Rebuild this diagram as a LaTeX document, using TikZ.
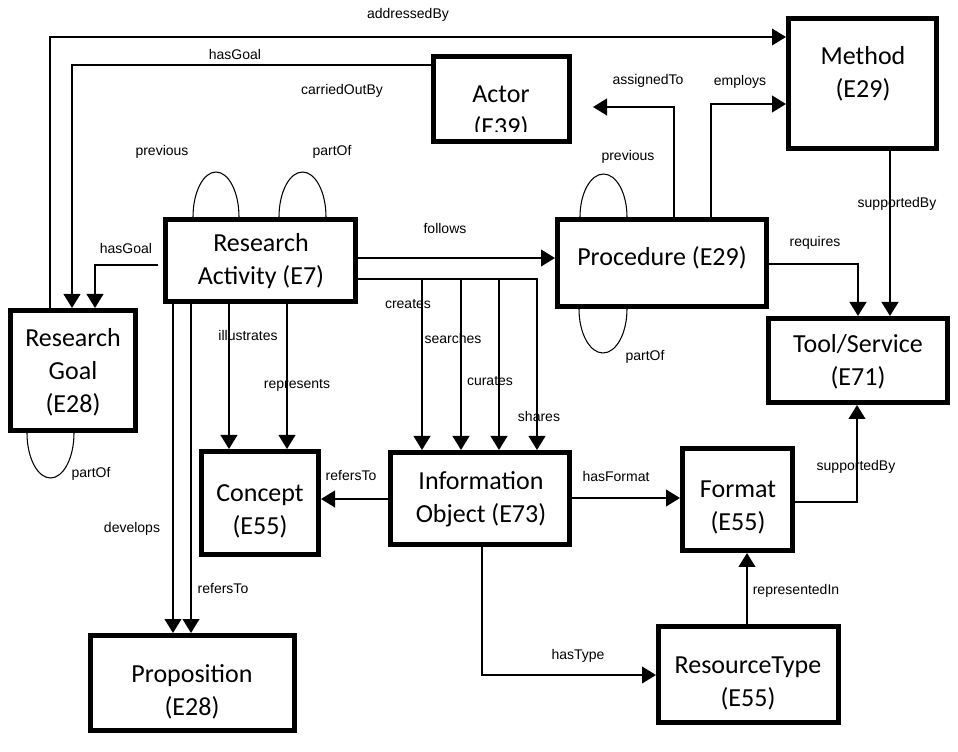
\documentclass[tikz,border=0pt]{standalone}
\usepackage{fontspec}
\setmainfont{Carlito}
\newfontfamily\lblfont{Liberation Sans}
\usetikzlibrary{arrows.meta, backgrounds}

\begin{document}
\begin{tikzpicture}[
    x=0.75pt, y=-0.75pt,
    >={Triangle[length=10.5pt, width=12.5pt]},
    box/.style={draw, line width=3.4pt, fill=white, inner sep=0pt},
    sized/.style 2 args={minimum width=#1*0.75pt-3.4pt, minimum height=#2*0.75pt-3.4pt},
    boxtext/.style={align=center, font=\fontsize{19.5}{24.75}\selectfont, inner sep=0pt},
    lbl/.style={font=\lblfont\fontsize{10.5}{12}\selectfont, inner sep=0pt},
    arr/.style={->, line width=1.5pt},
    selfloop/.style={line width=0.8pt}
]

    \useasboundingbox (0,0) rectangle (958,752);

    % Classes
    \node[box, sized={195}{87}]  (ra)      at (260.5,260.5) {};
    \node[box, sized={141}{90}]  (actor)   at (501.5,99)    {};
    \node[box, sized={153}{135}] (method)  at (862.5,83.5)  {};
    \node[box, sized={214}{92}]  (proc)    at (662,263)     {};
    \node[box, sized={184}{89}]  (tool)    at (858,360.5)   {};
    \node[box, sized={130}{125}] (goal)    at (73,370.5)    {};
    \node[box, sized={122}{108}] (concept) at (260,503)     {};
    \node[box, sized={184}{97}]  (info)    at (480,498.5)   {};
    \node[box, sized={115}{107}] (format)  at (737.5,499.5) {};
    \node[box, sized={185}{101}] (restype) at (748.5,674.5) {};
    \node[box, sized={209}{100}] (prop)    at (192.5,683)   {};

    % Class names
    \node[boxtext] (ra-t)      at (261,261)   {Research\\Activity (E7)};
    \begin{scope}
        \clip (actor.north west) rectangle (actor.east |- 0,132);
        \node[boxtext] (actor-t) at (501,112) {Actor\\(E39)};
    \end{scope}
    \node[boxtext] (method-t)  at (863,74)    {Method\\(E29)};
    \node[boxtext] (proc-t)    at (662,258)   {Procedure (E29)};
    \node[boxtext] (tool-t)    at (858,362)   {Tool/Service\\(E71)};
    \node[boxtext] (goal-t)    at (73,372)    {Research\\Goal\\(E28)};
    \node[boxtext] (concept-t) at (260,511)   {Concept\\(E55)};
    \node[boxtext] (info-t)    at (481,499)   {Information\\Object (E73)};
    \node[boxtext] (format-t)  at (738,507.5) {Format\\(E55)};
    \node[boxtext] (restype-t) at (748,683.5) {ResourceType\\(E55)};
    \node[boxtext] (prop-t)    at (192,691.5) {Proposition\\(E28)};

    % Self loops (behind the boxes)
    \begin{scope}[on background layer]
        \fill[white] (0,0) rectangle (958,752);
        \draw[selfloop] (ra.north -| 216,0)     ellipse[x radius=23, y radius=45];
        \draw[selfloop] (ra.north -| 302.5,0)   ellipse[x radius=23.5, y radius=45];
        \draw[selfloop] (proc.north -| 603.5,0) ellipse[x radius=23.5, y radius=43];
        \draw[selfloop] (proc.south -| 603,0)   ellipse[x radius=24, y radius=44];
        \draw[selfloop] (goal.south -| 50.5,0)  ellipse[x radius=23.5, y radius=45];
    \end{scope}

    % Relations
    \draw[arr, line width=1.1pt] (goal.north -| 50,0) |- (method.west |- 0,37);
    \draw[arr] (actor.west |- 0,65) -| (goal.north -| 72,0);
    \draw[arr, shorten <=3.75pt] (ra.west |- 0,265) -| (goal.north -| 95,0);
    \draw[arr] (ra.east |- 0,258) -- (proc.west |- 0,258);
    \foreach \x in {422,461,499,537}
        \draw[arr] (ra.east |- 0,279) -| (info.north -| \x,0);
    \foreach \x in {229,287}
        \draw[arr] (ra.south -| \x,0) -- (concept.north -| \x,0);
    \foreach \x in {173,191}
        \draw[arr] (ra.south -| \x,0) -- (prop.north -| \x,0);
    \draw[arr] (info.west |- 0,499) -- (concept.east |- 0,499);
    \draw[arr] (info.east |- 0,498) -- (format.west |- 0,498);
    \draw[arr] (info.south -| 482,0) |- (restype.west |- 0,675);
    \draw[arr] (restype.north -| 747,0) -- (format.south -| 747,0);
    \draw[arr] (format.east |- 0,502) -| (tool.south -| 857,0);
    \draw[arr] (method.south -| 890,0) -- (tool.north -| 890,0);
    \draw[arr] (proc.east |- 0,264) -| (tool.north -| 858,0);
    \draw[arr, shorten >=15.75pt] (proc.north -| 674,0) |- (actor.east |- 0,107);
    \draw[arr] (proc.north -| 711,0) |- (method.west |- 0,104);

    % Relation labels
    \node[lbl] (l-addressed)  at (408,15)  {addressedBy};
    \node[lbl] (l-goaltop)    at (235,55)  {hasGoal};
    \node[lbl] (l-carried)    at (342,91)  {carriedOutBy};
    \node[lbl] (l-raprev)     at (162,152) {previous};
    \node[lbl] (l-rapart)     at (332,152) {partOf};
    \node[lbl] (l-follows)    at (445,228) {follows};
    \node[lbl] (l-goalleft)   at (126,248) {hasGoal};
    \node[lbl] (l-assigned)   at (648,81)  {assignedTo};
    \node[lbl] (l-employs)    at (740,82)  {employs};
    \node[lbl] (l-procprev)   at (628,157) {previous};
    \node[lbl] (l-supmethod)  at (897,204) {supportedBy};
    \node[lbl] (l-requires)   at (815,243) {requires};
    \node[lbl] (l-creates)    at (408,304) {creates};
    \node[lbl] (l-searches)   at (453,338) {searches};
    \node[lbl] (l-curates)    at (490,381) {curates};
    \node[lbl] (l-shares)     at (539,416) {shares};
    \node[lbl] (l-procpart)   at (645,357) {partOf};
    \node[lbl] (l-illus)      at (248,335) {illustrates};
    \node[lbl] (l-repr)       at (297,385) {represents};
    \node[lbl] (l-goalpart)   at (91,474)  {partOf};
    \node[lbl] (l-refconcept) at (351,476) {refersTo};
    \node[lbl] (l-hasformat)  at (616,476) {hasFormat};
    \node[lbl] (l-supformat)  at (856,467) {supportedBy};
    \node[lbl] (l-develops)   at (132,529) {develops};
    \node[lbl] (l-refprop)    at (223,589) {refersTo};
    \node[lbl] (l-reprin)     at (796,591) {representedIn};
    \node[lbl] (l-hastype)    at (578,656) {hasType};

\end{tikzpicture}
\end{document}
